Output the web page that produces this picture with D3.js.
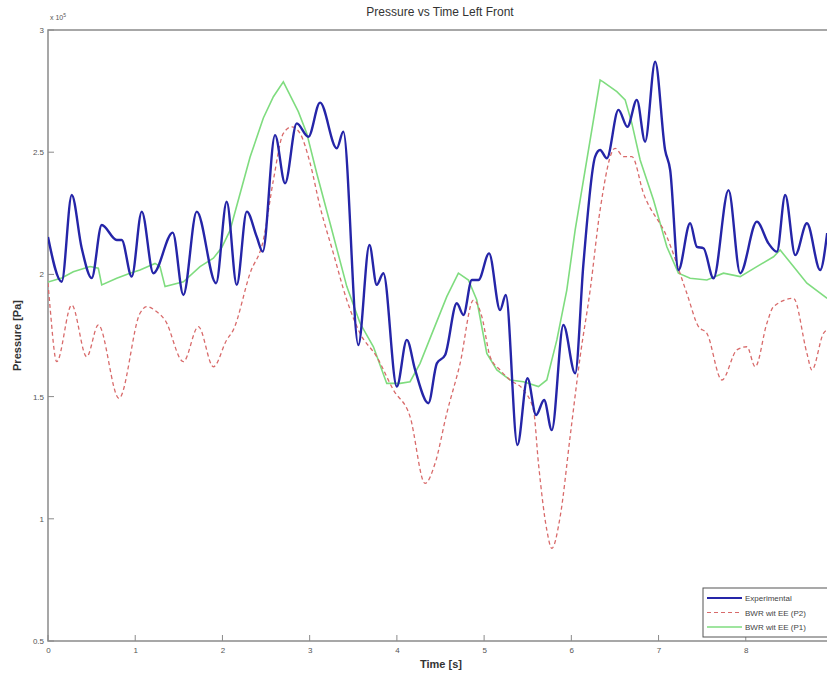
<!DOCTYPE html>
<html>
<head>
<meta charset="utf-8">
<script src="https://cdn.jsdelivr.net/npm/d3@7"></script>
<style>
  html, body { margin: 0; padding: 0; background: #fff; }
  svg { display: block; font-family: "Liberation Sans", Arial, sans-serif; }
</style>
</head>
<body>
<svg id="chart" width="827" height="680"></svg>
<script>
// ---- data (pressure in units of 1e5 Pa) ----
const titleText = "Pressure vs Time Left Front";
const xLabel = "Time [s]";
const yLabel = "Pressure [Pa]";
const xTicks = [0, 1, 2, 3, 4, 5, 6, 7, 8];
const yTicks = [0.5, 1, 1.5, 2, 2.5, 3];
const yTickLabels = ["0.5", "1", "1.5", "2", "2.5", "3"];
const seriesNames = ["Experimental", "BWR wit EE (P2)", "BWR wit EE (P1)"];

const expTime = [0,0.157,0.272,0.386,0.501,0.616,0.788,0.845,0.960,1.075,1.208,1.430,1.552,1.705,1.927,2.049,2.164,2.279,2.393,2.462,2.603,2.718,2.852,2.985,3.119,3.311,3.386,3.558,3.685,3.769,3.845,3.999,4.114,4.209,4.361,4.458,4.553,4.687,4.763,4.859,4.935,5.057,5.183,5.249,5.382,5.497,5.596,5.688,5.776,5.909,6.044,6.139,6.273,6.330,6.407,6.540,6.643,6.751,6.846,6.961,7.075,7.133,7.228,7.362,7.439,7.515,7.630,7.802,7.936,8.127,8.260,8.357,8.452,8.567,8.701,8.853,8.933];
const expP = [2.153,1.970,2.325,2.108,1.985,2.202,2.141,2.141,1.991,2.257,2.005,2.171,1.916,2.257,1.964,2.297,1.957,2.257,2.154,2.093,2.570,2.373,2.618,2.563,2.703,2.516,2.584,1.711,2.120,1.957,2.005,1.541,1.732,1.609,1.473,1.636,1.670,1.882,1.834,1.977,1.977,2.086,1.854,1.916,1.302,1.575,1.425,1.486,1.363,1.793,1.595,2.045,2.482,2.509,2.475,2.673,2.604,2.714,2.543,2.870,2.509,2.427,2.018,2.209,2.113,2.107,1.984,2.345,2.005,2.216,2.127,2.093,2.325,2.079,2.209,2.018,2.169];

const p2Time = [0,0.023,0.100,0.272,0.444,0.577,0.814,1.055,1.132,1.247,1.342,1.552,1.724,1.896,2.049,2.125,2.317,2.469,2.584,2.698,2.795,2.890,3.005,3.119,3.272,3.426,3.578,3.769,3.960,4.151,4.323,4.438,4.572,4.725,4.878,4.974,5.069,5.183,5.298,5.451,5.566,5.623,5.719,5.776,5.872,5.986,6.101,6.216,6.330,6.502,6.598,6.694,6.827,7.095,7.324,7.458,7.554,7.726,7.898,8.013,8.108,8.242,8.318,8.547,8.701,8.758,8.891,8.933];
const p2P = [1.965,1.868,1.643,1.875,1.663,1.793,1.493,1.841,1.868,1.847,1.813,1.643,1.786,1.622,1.732,1.773,2.005,2.141,2.386,2.577,2.604,2.577,2.455,2.277,2.086,1.895,1.759,1.663,1.527,1.418,1.145,1.227,1.432,1.636,1.895,1.827,1.663,1.609,1.568,1.527,1.445,1.227,0.954,0.879,1.009,1.336,1.663,1.936,2.264,2.516,2.482,2.482,2.332,2.154,1.923,1.786,1.759,1.568,1.691,1.704,1.622,1.800,1.868,1.902,1.677,1.609,1.759,1.773];

const p1Time = [0,0.157,0.290,0.482,0.577,0.616,0.788,0.940,1.055,1.227,1.284,1.342,1.552,1.743,1.896,1.992,2.087,2.125,2.317,2.469,2.584,2.698,2.870,2.967,3.081,3.234,3.426,3.578,3.731,3.884,4.037,4.151,4.266,4.419,4.572,4.705,4.820,4.916,5.031,5.146,5.298,5.451,5.623,5.719,5.834,5.948,6.044,6.330,6.365,6.522,6.617,6.694,6.789,6.942,7.095,7.228,7.362,7.554,7.744,7.936,8.127,8.318,8.394,8.547,8.701,8.933];
const p1P = [1.969,1.985,2.011,2.032,2.025,1.957,1.984,2.005,2.018,2.045,2.032,1.950,1.970,2.032,2.066,2.110,2.180,2.230,2.480,2.640,2.727,2.788,2.666,2.577,2.414,2.209,1.950,1.800,1.704,1.554,1.554,1.561,1.636,1.773,1.909,2.005,1.977,1.895,1.677,1.609,1.568,1.561,1.541,1.568,1.732,1.936,2.182,2.795,2.788,2.748,2.714,2.618,2.468,2.304,2.113,2.005,1.984,1.977,2.005,1.991,2.032,2.072,2.100,2.032,1.964,1.902];

// ---- layout ----
const svg = d3.select("#chart");
const plot = { left: 48, top: 30, right: 833, bottom: 641 };
const x = d3.scaleLinear().domain([0, 9]).range([plot.left, plot.right]);
const y = d3.scaleLinear().domain([0.5, 3]).range([plot.bottom, plot.top]);
const axisColor = "#8a8a8a";
const tickTextColor = "#555";

svg.append("defs").append("clipPath").attr("id", "clip")
  .append("rect").attr("x", plot.left).attr("y", plot.top)
  .attr("width", plot.right - plot.left).attr("height", plot.bottom - plot.top);

// box
svg.append("rect").attr("x", plot.left).attr("y", plot.top)
  .attr("width", plot.right - plot.left).attr("height", plot.bottom - plot.top)
  .attr("fill", "none").attr("stroke", axisColor).attr("stroke-width", 1.5);

// x axis
const xAxis = d3.axisBottom(x).tickValues(xTicks).tickFormat(d3.format("d")).tickSize(0).tickPadding(6);
const gx = svg.append("g").attr("transform", `translate(0,${plot.bottom})`).call(xAxis);
gx.select(".domain").remove();
gx.selectAll("text").attr("fill", tickTextColor).attr("font-size", 8);
svg.append("g").selectAll("line.xt").data(xTicks).join("line")
  .attr("x1", d => x(d)).attr("x2", d => x(d))
  .attr("y1", plot.bottom).attr("y2", plot.bottom - 6)
  .attr("stroke", axisColor).attr("stroke-width", 1);

// y axis
const yAxis = d3.axisLeft(y).tickValues(yTicks).tickFormat((d, i) => yTickLabels[i]).tickSize(0).tickPadding(4);
const gy = svg.append("g").attr("transform", `translate(${plot.left},0)`).call(yAxis);
gy.select(".domain").remove();
gy.selectAll("text").attr("fill", tickTextColor).attr("font-size", 8);
svg.append("g").selectAll("line.yt").data(yTicks).join("line")
  .attr("x1", plot.left).attr("x2", plot.left + 6)
  .attr("y1", d => y(d)).attr("y2", d => y(d))
  .attr("stroke", axisColor).attr("stroke-width", 1);

// exponent label
const expo = svg.append("text").attr("x", plot.left + 2).attr("y", plot.top - 10)
  .attr("font-size", 7).attr("fill", tickTextColor);
expo.append("tspan").text("x 10");
expo.append("tspan").attr("dy", -3).attr("font-size", 5).text("5");

// title and labels
svg.append("text").attr("x", 440).attr("y", 16).attr("text-anchor", "middle")
  .attr("font-size", 12).attr("fill", "#333").text(titleText);
svg.append("text").attr("x", 441).attr("y", 668).attr("text-anchor", "middle")
  .attr("font-size", 11).attr("font-weight", "bold").attr("fill", "#333").text(xLabel);
svg.append("text").attr("transform", `translate(21,${(plot.top + plot.bottom) / 2}) rotate(-90)`)
  .attr("text-anchor", "middle").attr("font-size", 11).attr("font-weight", "bold")
  .attr("fill", "#333").text(yLabel);

// lines
const lines = svg.append("g").attr("clip-path", "url(#clip)");
function mk(ts, ps) { return ts.map((t, i) => [t, ps[i]]); }
const smooth = d3.line().x(d => x(d[0])).y(d => y(d[1])).curve(d3.curveMonotoneX);
const straight = d3.line().x(d => x(d[0])).y(d => y(d[1])).curve(d3.curveLinear);

lines.append("path").datum(mk(p1Time, p1P)).attr("d", straight)
  .attr("fill", "none").attr("stroke", "#7fdc7f").attr("stroke-width", 1.6);
lines.append("path").datum(mk(p2Time, p2P)).attr("d", smooth)
  .attr("fill", "none").attr("stroke", "#d86a6a").attr("stroke-width", 1.3)
  .attr("stroke-dasharray", "4,3");
lines.append("path").datum(mk(expTime, expP)).attr("d", smooth)
  .attr("fill", "none").attr("stroke", "#2525a8").attr("stroke-width", 2.4);

// legend
const leg = svg.append("g");
leg.append("rect").attr("x", 703).attr("y", 588).attr("width", 128).attr("height", 49)
  .attr("fill", "#fff").attr("stroke", "#555").attr("stroke-width", 1);
const legStyles = [
  { stroke: "#2525a8", width: 2, dash: null },
  { stroke: "#d86a6a", width: 1.2, dash: "4,3" },
  { stroke: "#7fdc7f", width: 1.5, dash: null }
];
seriesNames.forEach((name, i) => {
  const yy = 598 + i * 14.5;
  leg.append("line").attr("x1", 707).attr("x2", 742).attr("y1", yy).attr("y2", yy)
    .attr("stroke", legStyles[i].stroke).attr("stroke-width", legStyles[i].width)
    .attr("stroke-dasharray", legStyles[i].dash);
  leg.append("text").attr("x", 745).attr("y", yy + 3).attr("font-size", 8)
    .attr("fill", "#444").text(name);
});
</script>
</body>
</html>
